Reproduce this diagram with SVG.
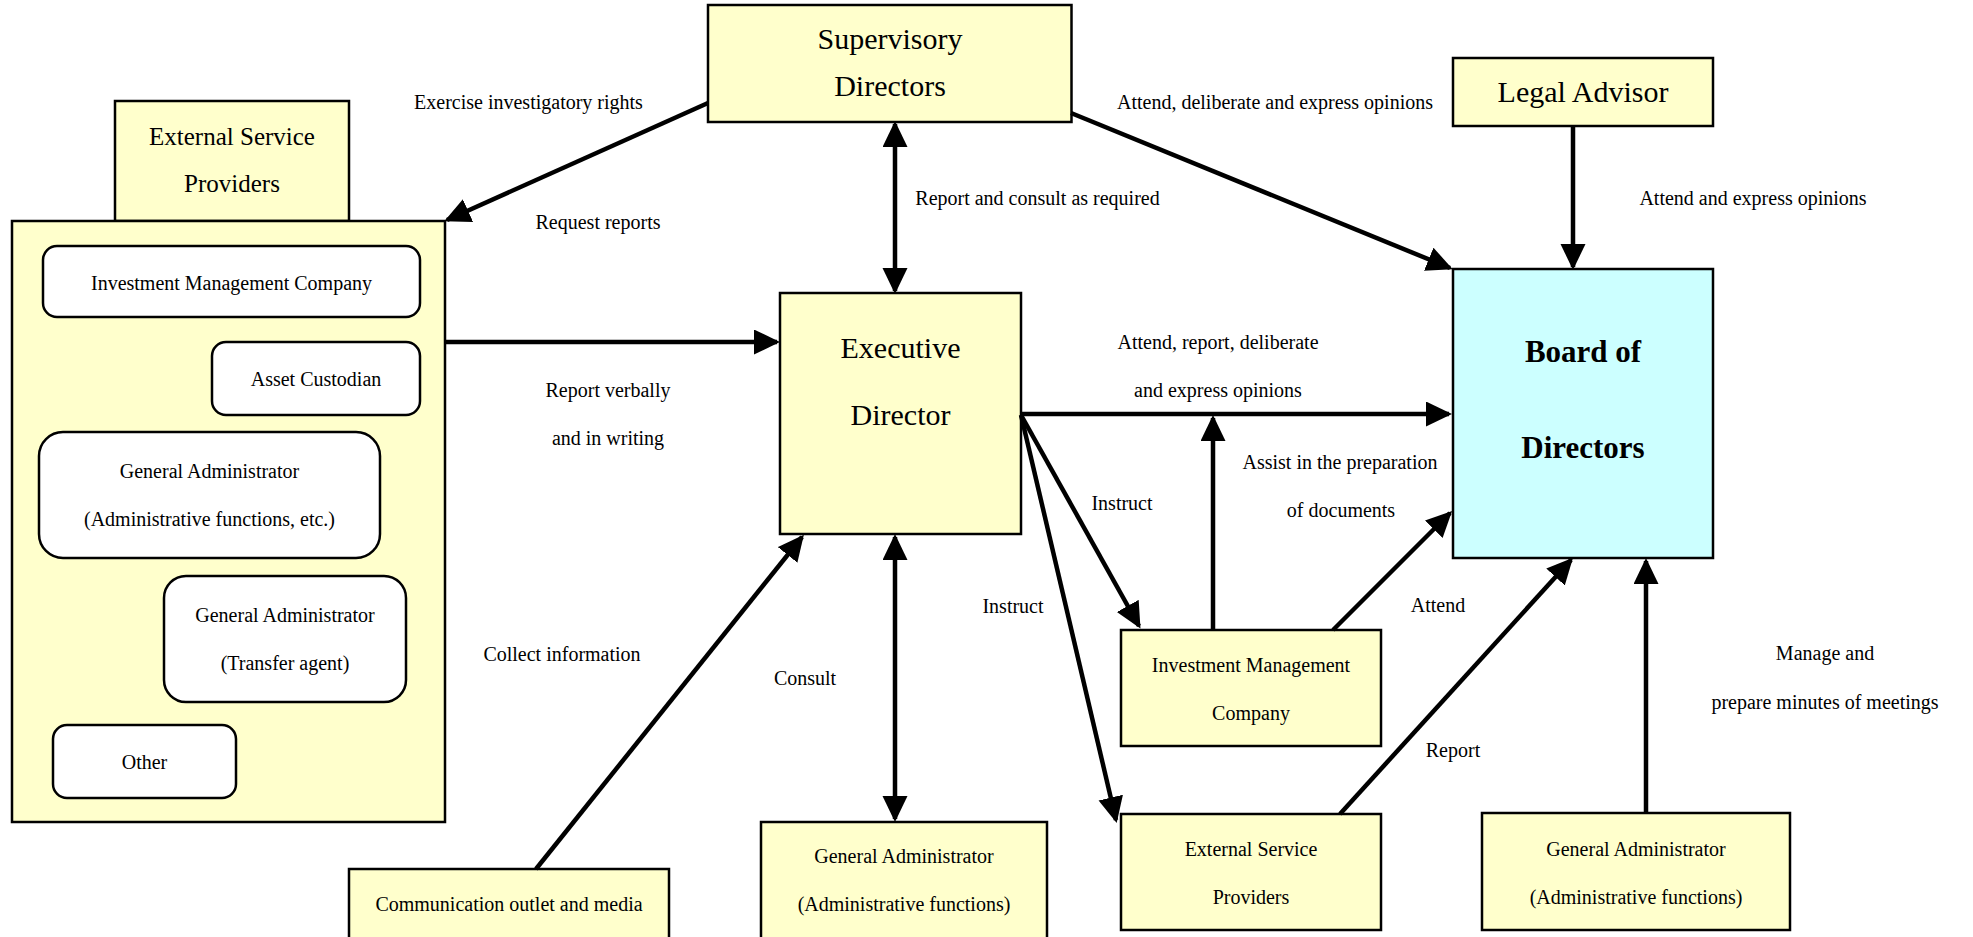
<svg xmlns="http://www.w3.org/2000/svg" width="1973" height="937" viewBox="0 0 1973 937">
<style>
  text { font-family: "Liberation Serif", "Times New Roman", serif; fill: #000; text-anchor: middle; dominant-baseline: central; }
  .box { fill: #FFFFCC; stroke: #000; stroke-width: 2.5; }
  .board { fill: #CCFFFF; stroke: #000; stroke-width: 2.5; }
  .inner { fill: #FFFFFF; stroke: #000; stroke-width: 2.5; }
  .big { font-size: 30px; }
  .mid { font-size: 25px; }
  .small { font-size: 20px; }
  .bold { font-size: 31px; font-weight: bold; }
  .lbl { font-size: 20px; }
  .conn line { stroke: #000; stroke-width: 4.5; fill: none; }
</style>
<defs>
  <marker id="ah" markerUnits="userSpaceOnUse" markerWidth="26" markerHeight="26" refX="23" refY="12.5" orient="auto-start-reverse">
    <path d="M0,0 L26,12.5 L0,25 Z" fill="#000"/>
  </marker>
</defs>
<rect width="1973" height="937" fill="#fff"/>

<g id="ext-header">
  <rect class="box" x="115" y="101" width="234" height="120"/>
  <text class="mid" x="232" y="136">External Service</text>
  <text class="mid" x="232" y="183">Providers</text>
</g>
<g id="container">
  <rect class="box" x="12" y="221" width="433" height="601"/>
</g>
<g id="c-imc">
  <rect class="inner" x="43" y="246" width="377" height="71" rx="14"/>
  <text class="small" x="231.5" y="283">Investment Management Company</text>
</g>
<g id="c-asset">
  <rect class="inner" x="212" y="342" width="208" height="73" rx="14"/>
  <text class="small" x="316" y="379">Asset Custodian</text>
</g>
<g id="c-ga1">
  <rect class="inner" x="39" y="432" width="341" height="126" rx="24"/>
  <text class="small" x="209.5" y="471">General Administrator</text>
  <text class="small" x="209.5" y="519">(Administrative functions, etc.)</text>
</g>
<g id="c-ga2">
  <rect class="inner" x="164" y="576" width="242" height="126" rx="22"/>
  <text class="small" x="285" y="615">General Administrator</text>
  <text class="small" x="285" y="663">(Transfer agent)</text>
</g>
<g id="c-other">
  <rect class="inner" x="53" y="725" width="183" height="73" rx="14"/>
  <text class="small" x="144.5" y="762">Other</text>
</g>

<g id="supervisory">
  <rect class="box" x="708" y="5" width="363.5" height="117"/>
  <text class="big" x="890" y="38">Supervisory</text>
  <text class="big" x="890" y="85">Directors</text>
</g>
<g id="legal">
  <rect class="box" x="1453" y="58" width="260" height="68"/>
  <text class="big" x="1583" y="91">Legal Advisor</text>
</g>
<g id="executive">
  <rect class="box" x="780" y="293" width="241" height="241"/>
  <text class="big" x="900.5" y="347">Executive</text>
  <text class="big" x="900.5" y="414">Director</text>
</g>
<g id="board">
  <rect class="board" x="1453" y="269" width="260" height="289"/>
  <text class="bold" x="1583" y="351">Board of</text>
  <text class="bold" x="1583" y="447">Directors</text>
</g>
<g id="imc">
  <rect class="box" x="1121" y="630" width="260" height="116"/>
  <text class="small" x="1251" y="665">Investment Management</text>
  <text class="small" x="1251" y="713">Company</text>
</g>
<g id="esp">
  <rect class="box" x="1121" y="814" width="260" height="116"/>
  <text class="small" x="1251" y="849">External Service</text>
  <text class="small" x="1251" y="897">Providers</text>
</g>
<g id="ga-center">
  <rect class="box" x="761" y="822" width="286" height="130"/>
  <text class="small" x="904" y="856">General Administrator</text>
  <text class="small" x="904" y="904">(Administrative functions)</text>
</g>
<g id="comm">
  <rect class="box" x="349" y="869" width="320" height="90"/>
  <text class="small" x="509" y="904">Communication outlet and media</text>
</g>
<g id="ga-right">
  <rect class="box" x="1482" y="813" width="308" height="117"/>
  <text class="small" x="1636" y="849">General Administrator</text>
  <text class="small" x="1636" y="897">(Administrative functions)</text>
</g>

<g id="connectors" class="conn">
  <line x1="708" y1="103" x2="447" y2="220" marker-end="url(#ah)"/>
  <line x1="895" y1="124" x2="895" y2="291" marker-start="url(#ah)" marker-end="url(#ah)"/>
  <line x1="1071" y1="113" x2="1450" y2="268" marker-end="url(#ah)"/>
  <line x1="1573" y1="126" x2="1573" y2="267" marker-end="url(#ah)"/>
  <line x1="445" y1="342" x2="777" y2="342" marker-end="url(#ah)"/>
  <line x1="1021" y1="414" x2="1449" y2="414" marker-end="url(#ah)"/>
  <line x1="1213" y1="630" x2="1213" y2="418" marker-end="url(#ah)"/>
  <line x1="1333" y1="630" x2="1450" y2="513" marker-end="url(#ah)"/>
  <line x1="1021" y1="415" x2="1139" y2="626" marker-end="url(#ah)"/>
  <line x1="1021" y1="415" x2="1116" y2="820" marker-end="url(#ah)"/>
  <line x1="536" y1="869" x2="802" y2="537" marker-end="url(#ah)"/>
  <line x1="895" y1="537" x2="895" y2="819" marker-start="url(#ah)" marker-end="url(#ah)"/>
  <line x1="1340" y1="814" x2="1571" y2="560" marker-end="url(#ah)"/>
  <line x1="1646" y1="813" x2="1646" y2="561" marker-end="url(#ah)"/>
</g>

<g id="labels">
  <text class="lbl" x="528.5" y="102">Exercise investigatory rights</text>
  <text class="lbl" x="598" y="222">Request reports</text>
  <text class="lbl" x="1037.5" y="198">Report and consult as required</text>
  <text class="lbl" x="1275" y="102">Attend, deliberate and express opinions</text>
  <text class="lbl" x="1753" y="198">Attend and express opinions</text>
  <text class="lbl" x="608" y="390">Report verbally</text>
  <text class="lbl" x="608" y="438">and in writing</text>
  <text class="lbl" x="1218" y="342">Attend, report, deliberate</text>
  <text class="lbl" x="1218" y="390">and express opinions</text>
  <text class="lbl" x="1340" y="462">Assist in the preparation</text>
  <text class="lbl" x="1341" y="510">of documents</text>
  <text class="lbl" x="1122" y="503">Instruct</text>
  <text class="lbl" x="1013" y="606">Instruct</text>
  <text class="lbl" x="1438" y="605">Attend</text>
  <text class="lbl" x="562" y="654">Collect information</text>
  <text class="lbl" x="805" y="678">Consult</text>
  <text class="lbl" x="1453" y="750">Report</text>
  <text class="lbl" x="1825" y="653">Manage and</text>
  <text class="lbl" x="1825" y="702">prepare minutes of meetings</text>
</g>
</svg>
